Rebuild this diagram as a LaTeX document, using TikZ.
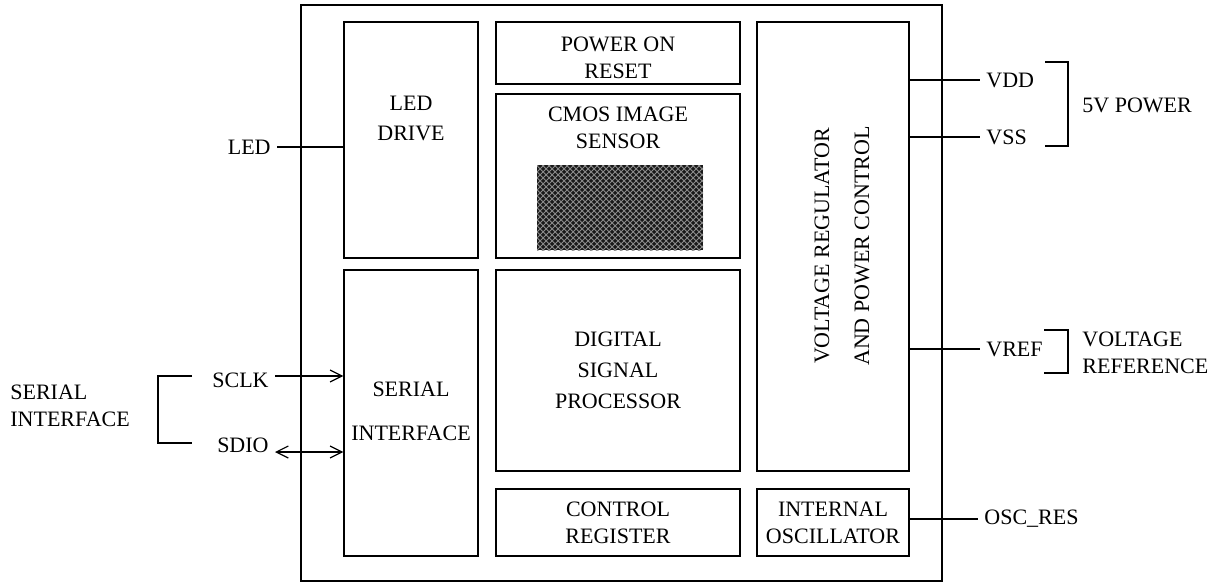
\documentclass[tikz,border=0pt]{standalone}
\usepackage{fontspec}
\setmainfont{Liberation Serif}
\usetikzlibrary{patterns,arrows.meta}

\tikzset{
  blk/.style={draw, line width=0.6pt, rectangle, inner sep=0pt, align=center},
  txt/.style={inner sep=3pt, align=center, font=\fontsize{11}{13.5}\selectfont},
  wire/.style={line width=0.6pt},
  pin/.style={wire, -{Straight Barb[length=6pt,width=6pt]}},
  bipin/.style={wire, {Straight Barb[length=6pt,width=6pt]}-{Straight Barb[length=6pt,width=6pt]}},
}

\begin{document}
\begin{tikzpicture}[x=0.5pt, y=-0.5pt]
  \useasboundingbox (0,0) rectangle (1220,583);

  % chip outline
  \node[blk, minimum width=320.5pt, minimum height=288pt] (chip) at (621.5,293) {};

  % blocks
  \node[blk, minimum width=67pt, minimum height=118pt] (led) at (411,140) {};
  \node[txt] at (411,118.5) {LED\\[1.5pt]DRIVE};

  \node[blk, minimum width=67pt, minimum height=143pt] (ser) at (411,413) {};
  \node[txt] at (411,389) {SERIAL};
  \node[txt] at (411,433) {INTERFACE};

  \node[blk, minimum width=122pt, minimum height=31pt] (por) at (618,53) {};
  \node[txt] at (618,57.5) {POWER ON\\RESET};

  \node[blk, minimum width=122pt, minimum height=82pt] (cmos) at (618,176) {};
  \node[txt] at (618,127.5) {CMOS IMAGE\\SENSOR};
  \fill[black!90] (537,165) rectangle (703,250);
  \fill[pattern=crosshatch, pattern color=black!45] (537,165) rectangle (703,250);

  \node[blk, txt, inner sep=0pt, minimum width=122pt, minimum height=100.5pt] (dsp) at (618,370.5)
    {DIGITAL\\[2pt]SIGNAL\\[2pt]PROCESSOR};

  \node[blk, txt, inner sep=0pt, minimum width=122pt, minimum height=33.5pt] (ctrl) at (618,522.5)
    {CONTROL\\REGISTER};

  \node[blk, minimum width=76pt, minimum height=224.5pt] (vreg) at (833,246.5) {};
  \node[txt, rotate=90] at (842,246) {VOLTAGE REGULATOR\\[6.5pt]AND POWER CONTROL};

  \node[blk, txt, inner sep=0pt, minimum width=76pt, minimum height=33.5pt] (osc) at (833,522.5)
    {INTERNAL\\OSCILLATOR};

  % left pins
  \node[txt, anchor=east] (ledpin) at (277,147) {LED};
  \draw[wire] (ledpin.east) -- (ledpin.east -| led.west);

  \node[txt, anchor=east] (sclk) at (275,380) {SCLK};
  \coordinate (sclkw) at (275,376);
  \draw[pin] (sclkw) -- (sclkw -| ser.west);

  \node[txt, anchor=east] (sdio) at (275,445) {SDIO};
  \coordinate (sdiow) at (275,452);
  \draw[bipin] (sdiow) -- (sdiow -| ser.west);

  \coordinate (sbt) at (192,376);
  \coordinate (sbb) at (192,443);
  \draw[wire] (sbt) -- ++(-34,0) |- (sbb);
  \node[txt, anchor=west, align=left] (serlbl) at (4,405.5) {SERIAL\\INTERFACE};

  % right pins
  \node[txt, anchor=west] (vdd) at (980,80) {VDD};
  \draw[wire] (vdd.west -| vreg.east) -- (vdd.west);
  \node[txt, anchor=west] (vss) at (980,137) {VSS};
  \draw[wire] (vss.west -| vreg.east) -- (vss.west);
  \coordinate (pbt) at (1045,62);
  \coordinate (pbb) at (1045,146);
  \draw[wire] (pbt) -- ++(23,0) |- (pbb);
  \node[txt, anchor=west] (pwr) at (1076,105) {5V POWER};

  \node[txt, anchor=west] (vref) at (980,349) {VREF};
  \draw[wire] (vref.west -| vreg.east) -- (vref.west);
  \coordinate (rbt) at (1044,330);
  \coordinate (rbb) at (1044,373);
  \draw[wire] (rbt) -- ++(24,0) |- (rbb);
  \node[txt, anchor=west, align=left] (reflbl) at (1076,352.5) {VOLTAGE\\REFERENCE};

  \node[txt, anchor=west] (oscres) at (978,519) {OSC\_RES};
  \draw[wire] (oscres.west -| osc.east) -- (oscres.west);
\end{tikzpicture}
\end{document}
